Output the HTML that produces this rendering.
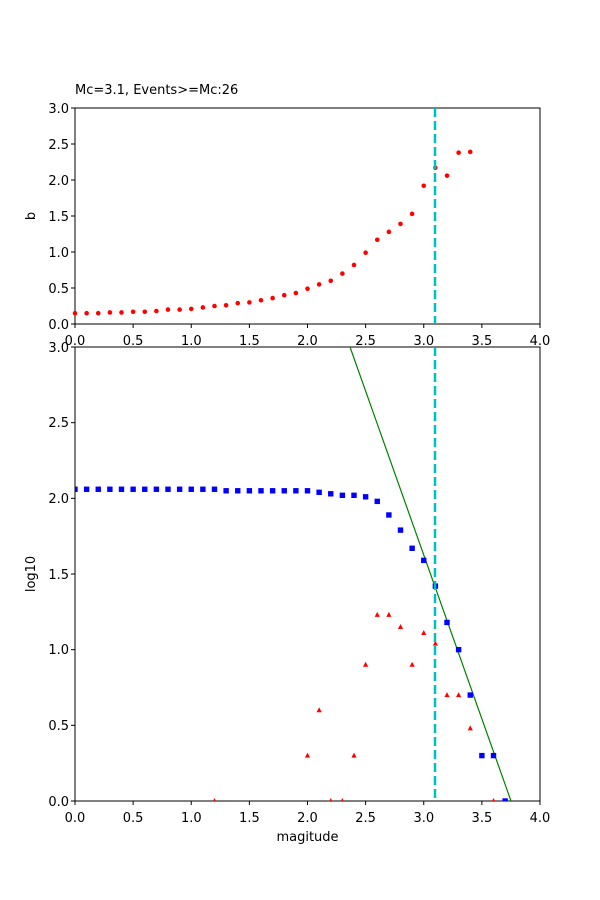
<!DOCTYPE html>
<html><head><meta charset="utf-8"><style>body{margin:0;background:#fff}svg{display:block}text{font-family:"DejaVu Sans","Liberation Sans",sans-serif;font-size:13px;fill:#000}</style></head><body>
<svg id="s" width="600" height="900" xmlns="http://www.w3.org/2000/svg">
<rect width="600" height="900" fill="#fff"/>
<text x="75" y="94">Mc=3.1, Events&gt;=Mc:26</text>
<g id="g"></g>
<!-- top axis labels -->
<g text-anchor="end">
<text x="69" y="329">0.0</text><text x="69" y="293">0.5</text><text x="69" y="257">1.0</text><text x="69" y="221">1.5</text><text x="69" y="185">2.0</text><text x="69" y="149">2.5</text><text x="69" y="113">3.0</text>
<text x="69" y="806">0.0</text><text x="69" y="730">0.5</text><text x="69" y="654">1.0</text><text x="69" y="579">1.5</text><text x="69" y="503">2.0</text><text x="69" y="427">2.5</text><text x="69" y="352">3.0</text>
</g>
<g text-anchor="middle">
<text x="75" y="345">0.0</text><text x="133.1" y="345">0.5</text><text x="191.3" y="345">1.0</text><text x="249.4" y="345">1.5</text><text x="307.5" y="345">2.0</text><text x="365.6" y="345">2.5</text><text x="423.8" y="345">3.0</text><text x="481.9" y="345">3.5</text><text x="540" y="345">4.0</text>
<text x="75" y="822">0.0</text><text x="133.1" y="822">0.5</text><text x="191.3" y="822">1.0</text><text x="249.4" y="822">1.5</text><text x="307.5" y="822">2.0</text><text x="365.6" y="822">2.5</text><text x="423.8" y="822">3.0</text><text x="481.9" y="822">3.5</text><text x="540" y="822">4.0</text>
<text x="307.5" y="841">magitude</text>
<text transform="translate(35,216) rotate(-90)">b</text>
<text transform="translate(35,574) rotate(-90)">log10</text>
</g>
</svg>
<script>
var g=document.getElementById('g'),h='';
function X(m){return 75+116.25*m}
function TY(v){return 324-72*v}
function BY(v){return 801-151.33*v}
h+='<rect x="75" y="108" width="465" height="216" fill="none" stroke="#000" stroke-width="1"/>';
h+='<rect x="75" y="347" width="465" height="454" fill="none" stroke="#000" stroke-width="1"/>';
for(var i=0;i<=8;i++){var x=X(i/2);h+='<line x1="'+x+'" x2="'+x+'" y1="324" y2="328" stroke="#000"/><line x1="'+x+'" x2="'+x+'" y1="801" y2="805" stroke="#000"/>';}
for(var i=0;i<=6;i++){h+='<line x1="71" x2="75" y1="'+TY(i/2)+'" y2="'+TY(i/2)+'" stroke="#000"/><line x1="71" x2="75" y1="'+BY(i/2)+'" y2="'+BY(i/2)+'" stroke="#000"/>';}
var b=[0.15,0.15,0.15,0.16,0.16,0.17,0.17,0.18,0.2,0.2,0.21,0.23,0.25,0.26,0.29,0.30,0.33,0.36,0.40,0.43,0.49,0.55,0.60,0.70,0.82,0.99,1.17,1.28,1.39,1.53,1.92,2.17,2.06,2.38,2.39];
b.forEach(function(v,i){h+='<circle cx="'+X(i/10)+'" cy="'+TY(v)+'" r="2.3" fill="red"/>';});
h+='<clipPath id="c"><rect x="75" y="347" width="465" height="454"/></clipPath>';
h+='<line x1="350" y1="347" x2="511" y2="801" stroke="green" stroke-width="1.2"/>';
var bl=[2.06,2.06,2.06,2.06,2.06,2.06,2.06,2.06,2.06,2.06,2.06,2.06,2.06,2.05,2.05,2.05,2.05,2.05,2.05,2.05,2.05,2.04,2.03,2.02,2.02,2.01,1.98,1.89,1.79,1.67,1.59,1.42,1.18,1.0,0.70,0.30,0.30,0];
var s='';
bl.forEach(function(v,i){s+='<rect x="'+(X(i/10)-2.7)+'" y="'+(BY(v)-2.7)+'" width="5.4" height="5.4" fill="blue"/>';});
var tr=[[1.2,0],[2.0,0.30],[2.1,0.60],[2.2,0],[2.3,0],[2.4,0.30],[2.5,0.90],[2.6,1.23],[2.7,1.23],[2.8,1.15],[2.9,0.90],[3.0,1.11],[3.1,1.04],[3.2,0.70],[3.3,0.70],[3.4,0.48],[3.6,0]];
tr.forEach(function(p){var x=X(p[0]),y=BY(p[1]);s+='<polygon points="'+x+','+(y-3)+' '+(x-2.6)+','+(y+2)+' '+(x+2.6)+','+(y+2)+'" fill="red"/>';});
h+='<g clip-path="url(#c)">'+s+'</g>';
h+='<line x1="435" x2="435" y1="108" y2="324" stroke="#00bfbf" stroke-width="2.5" stroke-dasharray="9,4"/>';
h+='<line x1="435" x2="435" y1="347" y2="801" stroke="#00bfbf" stroke-width="2.5" stroke-dasharray="9,4"/>';
g.innerHTML=h;
</script>
</body></html>
